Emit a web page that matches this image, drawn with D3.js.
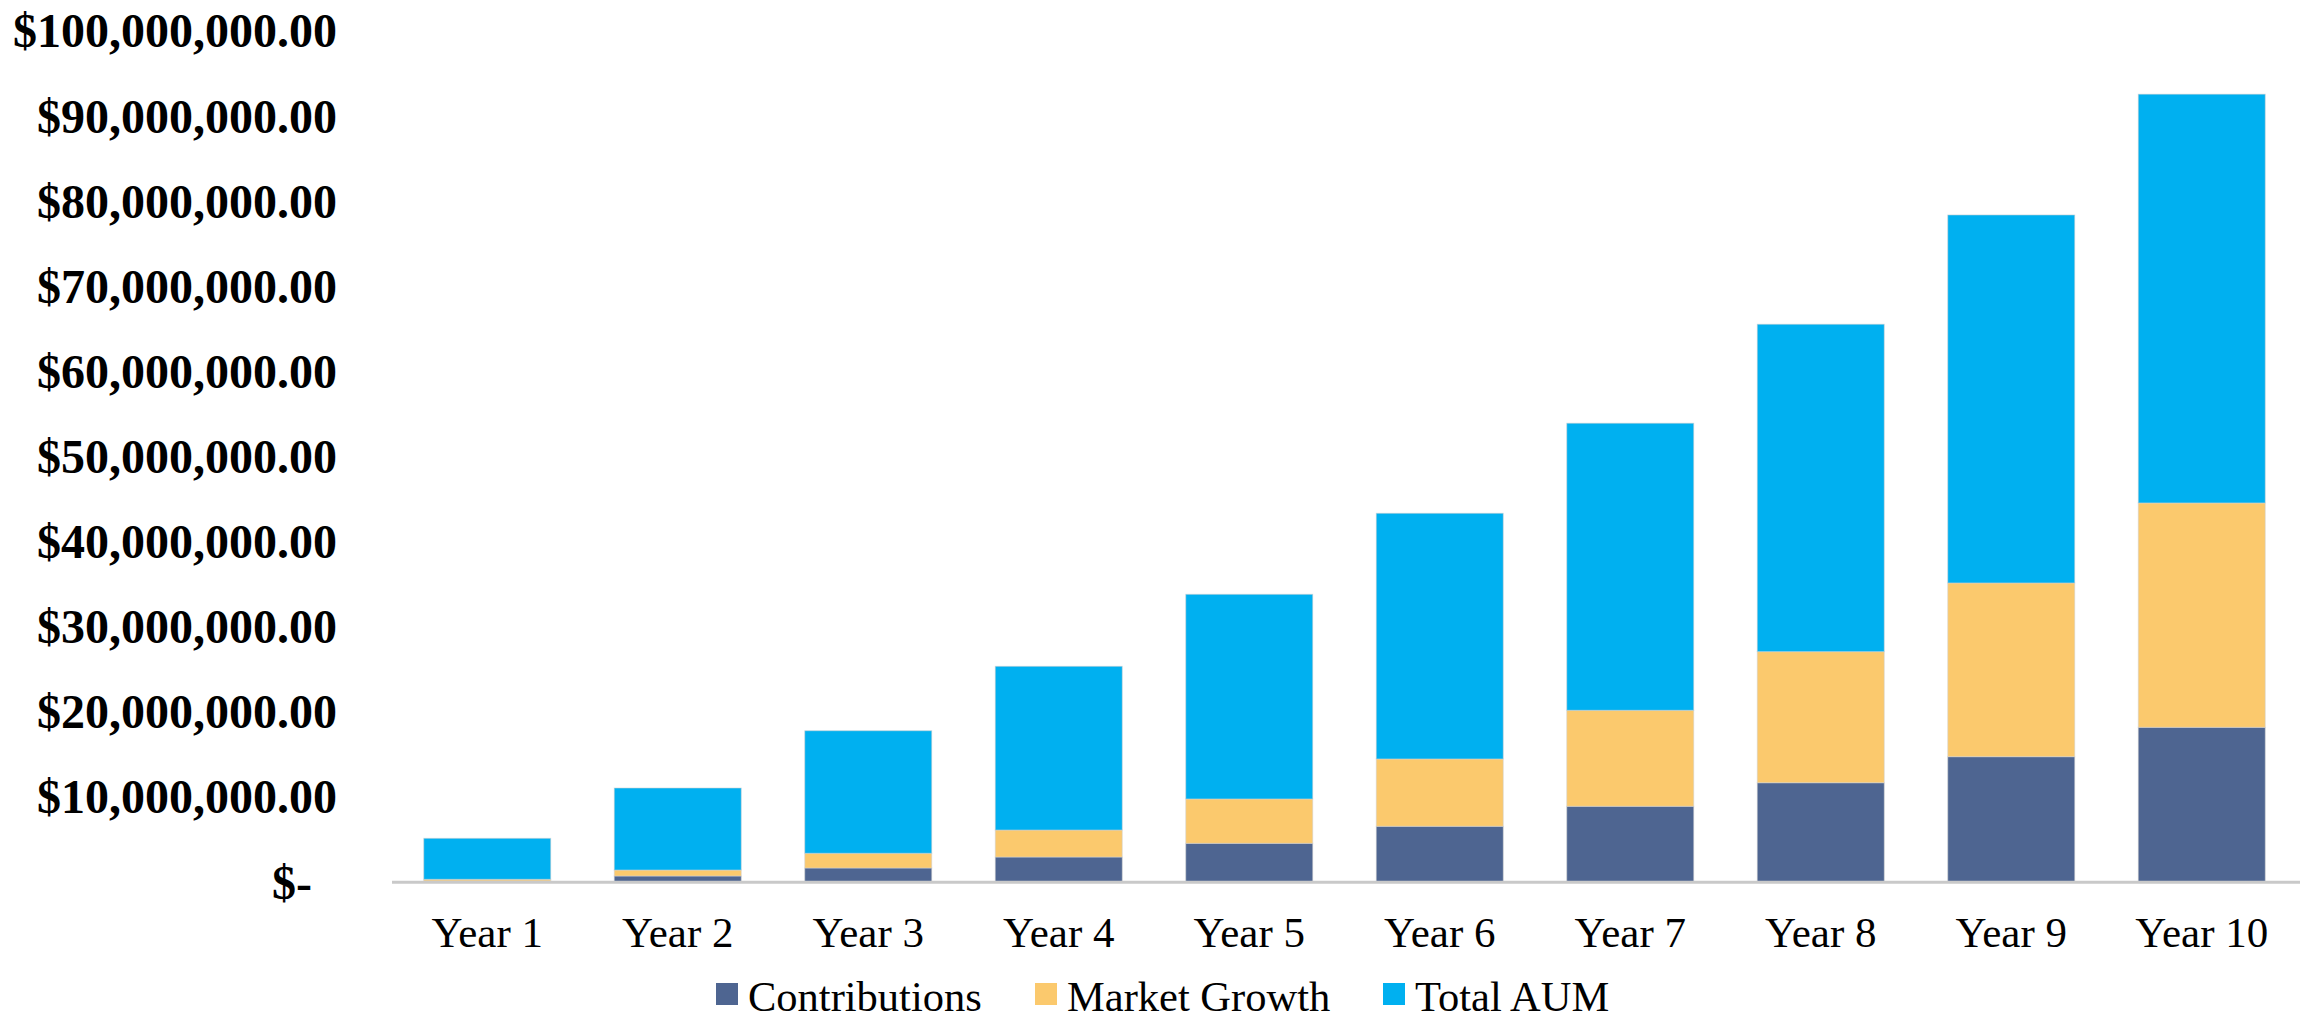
<!DOCTYPE html>
<html>
<head>
<meta charset="utf-8">
<script src="https://cdn.jsdelivr.net/npm/d3@7/dist/d3.min.js"></script>
<style>
  html, body { margin: 0; padding: 0; background: #ffffff; }
  svg { display: block; }
</style>
</head>
<body>
<svg id="chart" width="2308" height="1023"></svg>
<script>
// Ten-year AUM projection, stacked by component
const categories = ["Year 1", "Year 2", "Year 3", "Year 4", "Year 5",
                    "Year 6", "Year 7", "Year 8", "Year 9", "Year 10"];
const seriesNames = ["Contributions", "Market Growth", "Total AUM"];
const contributions = [80000, 670000, 1610000, 2900000, 4510000,
                       6510000, 8860000, 11630000, 14690000, 18140000];
const marketGrowth  = [200000, 700000, 1730000, 3170000, 5210000,
                       7910000, 11280000, 15400000, 20410000, 26360000];
const totalAUM      = [4820000, 9640000, 14400000, 19240000, 24050000,
                       28870000, 33730000, 38470000, 43240000, 48030000];
const yTicks = [0, 10000000, 20000000, 30000000, 40000000, 50000000,
                60000000, 70000000, 80000000, 90000000, 100000000];
const colors = ["#4E6591", "#FBC96D", "#00B0F0"];

const svg = d3.select("#chart");
const serif = "'Liberation Serif', 'Times New Roman', Times, serif";

const x = d3.scaleBand()
  .domain(categories)
  .range([392, 2297])
  .paddingInner(1 / 3)
  .paddingOuter(1 / 6);

const y = d3.scaleLinear()
  .domain([0, 100000000])
  .range([881.7, 30.6]);

// rows for the stack layout
const rows = categories.map((c, i) => ({
  category: c,
  "Contributions": contributions[i],
  "Market Growth": marketGrowth[i],
  "Total AUM": totalAUM[i]
}));
const stacked = d3.stack().keys(seriesNames)(rows);

// bars
svg.append("g")
  .selectAll("g")
  .data(stacked)
  .join("g")
    .attr("fill", (d, i) => colors[i])
  .selectAll("rect")
  .data(d => d)
  .join("rect")
    .attr("x", d => x(d.data.category))
    .attr("width", x.bandwidth())
    .attr("y", d => y(d[1]))
    .attr("height", d => y(d[0]) - y(d[1]))
    .attr("stroke", "rgba(210,210,210,0.55)")
    .attr("stroke-width", 1);

// category axis line
svg.append("line")
  .attr("x1", 392).attr("x2", 2300)
  .attr("y1", y(0) + 0.5).attr("y2", y(0) + 0.5)
  .attr("stroke", "#C9C9C9")
  .attr("stroke-width", 3);

// value axis labels
const money = d3.format("$,.2f");
const yAxis = d3.axisLeft(y)
  .tickValues(yTicks)
  .tickSize(0)
  .tickPadding(0)
  .tickFormat(v => v === 0 ? "$-" : money(v));

const yg = svg.append("g")
  .attr("transform", "translate(337,0)")
  .call(yAxis);
yg.select(".domain").remove();
yg.selectAll("text")
  .attr("font-family", serif)
  .attr("font-weight", "bold")
  .attr("font-size", 48)
  .attr("fill", "#000")
  .attr("dy", "0.34em")
  .attr("dx", d => d === 0 ? -25 : 0);

// category labels
const xAxis = d3.axisBottom(x).tickSize(0).tickPadding(0);
const xg = svg.append("g")
  .attr("transform", "translate(0,946.5)")
  .call(xAxis);
xg.select(".domain").remove();
xg.selectAll("text")
  .attr("font-family", serif)
  .attr("font-size", 43)
  .attr("fill", "#000")
  .attr("dy", 0)
  .attr("y", 0);

// legend
const legend = svg.append("g");
const legendX = [716, 1035, 1383];
seriesNames.forEach((name, i) => {
  legend.append("rect")
    .attr("x", legendX[i]).attr("y", 983)
    .attr("width", 22).attr("height", 22)
    .attr("fill", colors[i]);
  legend.append("text")
    .attr("x", legendX[i] + 32).attr("y", 1011)
    .attr("font-family", serif)
    .attr("font-size", 42.5)
    .attr("fill", "#000")
    .text(name);
});
</script>
</body>
</html>
